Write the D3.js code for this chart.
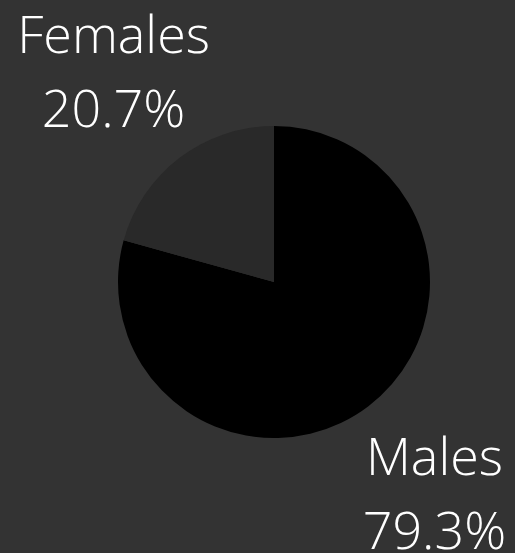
<!DOCTYPE html>
<html>
<head>
<meta charset="utf-8">
<script src="https://cdn.jsdelivr.net/npm/d3@7"></script>
<style>
  html, body { margin: 0; padding: 0; background: #333333; }
  svg { display: block; }
  .label { fill: #ffffff; font-family: "Open Sans", sans-serif; font-weight: 300; font-size: 52px; }
</style>
</head>
<body>
<svg width="515" height="553"></svg>
<script>
const categories = ["Males", "Females"];
const shares = [79.3, 20.7];
const colors = ["#000000", "#292929"];

var svg = d3.select("svg"),
    cx = 274,
    cy = 282,
    radius = 156;

var data = categories.map(function (c, i) { return { name: c, value: shares[i] }; });

var pie = d3.pie().sort(null).value(function (d) { return d.value; });
var arc = d3.arc().innerRadius(0).outerRadius(radius);
var labelArc = d3.arc().innerRadius(265).outerRadius(265);

var color = d3.scaleOrdinal().domain(categories).range(colors);

var g = svg.append("g")
    .attr("transform", "translate(" + cx + "," + cy + ")");

var arcs = pie(data);

g.selectAll("path")
    .data(arcs)
    .enter().append("path")
    .attr("d", arc)
    .attr("fill", function (d) { return color(d.data.name); });

// two-line labels, placed outside each slice
var labels = g.selectAll(".label")
    .data(arcs)
    .enter().append("text")
    .attr("class", "label")
    .attr("text-anchor", "middle")
    .attr("transform", function (d) {
        var c = labelArc.centroid(d);
        return "translate(" + c[0] + "," + c[1] + ")";
    });

labels.append("tspan")
    .attr("x", 0)
    .attr("y", -18)
    .text(function (d) { return d.data.name; });

labels.append("tspan")
    .attr("x", 0)
    .attr("y", 56)
    .text(function (d) { return d.data.value.toFixed(1) + "%"; });
</script>
</body>
</html>
